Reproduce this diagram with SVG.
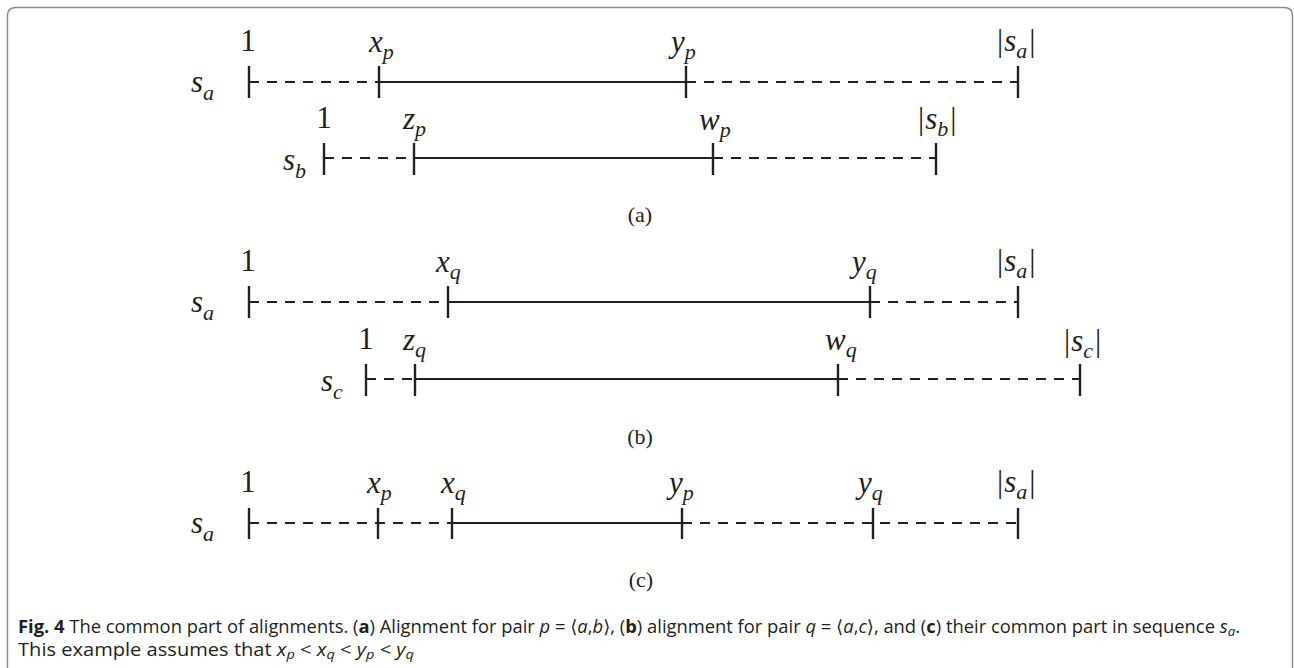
<svg xmlns="http://www.w3.org/2000/svg" width="1294" height="668" viewBox="0 0 1294 668">
<style>
.m{font-family:"Liberation Serif","Times New Roman",serif;font-size:31px;fill:#231f20}
.i{font-style:italic}
.sub{font-style:italic;font-size:22px}
.lab{font-family:"Liberation Serif","Times New Roman",serif;font-size:22px;fill:#231f20;text-anchor:middle}
.solid{stroke:#231f20;stroke-width:2;fill:none}
.dash{stroke:#231f20;stroke-width:2;fill:none;stroke-dasharray:10 8}
.tick{stroke:#231f20;stroke-width:2.4}
.cap{font-family:"Open Sans","DejaVu Sans",sans-serif;font-size:18px;fill:#231f20}
</style>
<rect width="1294" height="668" fill="#fff"/>
<path d="M7.5 668 V16 Q7.5 7.5 16 7.5 H1284 Q1292.5 7.5 1292.5 16 V668" fill="none" stroke="#8a8a8a" stroke-width="1.5"/>

<g id="connectors">
 <line class="dash" x1="249" y1="82" x2="379" y2="82"/>
 <line class="solid" x1="379" y1="82" x2="686" y2="82"/>
 <line class="dash" x1="686" y1="82" x2="1018" y2="82"/>
 <line class="dash" x1="324" y1="158" x2="414" y2="158"/>
 <line class="solid" x1="414" y1="158" x2="713" y2="158"/>
 <line class="dash" x1="713" y1="158" x2="936" y2="158"/>
 <line class="dash" x1="249" y1="302" x2="448" y2="302"/>
 <line class="solid" x1="448" y1="302" x2="870" y2="302"/>
 <line class="dash" x1="870" y1="302" x2="1018" y2="302"/>
 <line class="dash" x1="366" y1="379" x2="415" y2="379"/>
 <line class="solid" x1="415" y1="379" x2="838" y2="379"/>
 <line class="dash" x1="838" y1="379" x2="1080" y2="379"/>
 <line class="dash" x1="249" y1="523" x2="452" y2="523"/>
 <line class="solid" x1="452" y1="523" x2="682" y2="523"/>
 <line class="dash" x1="682" y1="523" x2="1018" y2="523"/>
</g>

<g id="ticks">
 <line class="tick" x1="249" y1="66" x2="249" y2="98"/>
 <line class="tick" x1="379" y1="66" x2="379" y2="98"/>
 <line class="tick" x1="686" y1="66" x2="686" y2="98"/>
 <line class="tick" x1="1018" y1="66" x2="1018" y2="98"/>
 <line class="tick" x1="324" y1="143" x2="324" y2="175"/>
 <line class="tick" x1="414" y1="143" x2="414" y2="175"/>
 <line class="tick" x1="713" y1="143" x2="713" y2="175"/>
 <line class="tick" x1="936" y1="143" x2="936" y2="175"/>
 <line class="tick" x1="249" y1="286" x2="249" y2="318"/>
 <line class="tick" x1="448" y1="286" x2="448" y2="318"/>
 <line class="tick" x1="870" y1="286" x2="870" y2="318"/>
 <line class="tick" x1="1018" y1="286" x2="1018" y2="318"/>
 <line class="tick" x1="366" y1="364" x2="366" y2="396"/>
 <line class="tick" x1="415" y1="364" x2="415" y2="396"/>
 <line class="tick" x1="838" y1="364" x2="838" y2="396"/>
 <line class="tick" x1="1080" y1="364" x2="1080" y2="396"/>
 <line class="tick" x1="249" y1="508" x2="249" y2="539"/>
 <line class="tick" x1="378" y1="508" x2="378" y2="539"/>
 <line class="tick" x1="452" y1="508" x2="452" y2="539"/>
 <line class="tick" x1="682" y1="508" x2="682" y2="539"/>
 <line class="tick" x1="873" y1="508" x2="873" y2="539"/>
 <line class="tick" x1="1018" y1="508" x2="1018" y2="539"/>
</g>

<g id="panel-a">
 <text class="m i" x="191" y="92">s<tspan class="sub" dy="8">a</tspan></text>
 <text class="m" x="248" y="51" text-anchor="middle">1</text>
 <text class="m i" x="369" y="52">x<tspan class="sub" dy="7">p</tspan></text>
 <text class="m i" x="671" y="52">y<tspan class="sub" dy="7">p</tspan></text>
 <text class="m" x="997" y="51">|<tspan class="i" dx="1">s</tspan><tspan class="sub" dy="7">a</tspan><tspan dy="-7" dx="2">|</tspan></text>
 <text class="m i" x="283" y="170">s<tspan class="sub" dy="8">b</tspan></text>
 <text class="m" x="324" y="128" text-anchor="middle">1</text>
 <text class="m i" x="403" y="129">z<tspan class="sub" dy="7">p</tspan></text>
 <text class="m i" x="699" y="130">w<tspan class="sub" dy="7">p</tspan></text>
 <text class="m" x="918" y="129">|<tspan class="i" dx="1">s</tspan><tspan class="sub" dy="7">b</tspan><tspan dy="-7" dx="2">|</tspan></text>
 <text class="lab" x="640" y="222">(a)</text>
</g>

<g id="panel-b">
 <text class="m i" x="191" y="312">s<tspan class="sub" dy="8">a</tspan></text>
 <text class="m" x="248" y="271" text-anchor="middle">1</text>
 <text class="m i" x="436" y="272">x<tspan class="sub" dy="7">q</tspan></text>
 <text class="m i" x="852" y="272">y<tspan class="sub" dy="7">q</tspan></text>
 <text class="m" x="997" y="271">|<tspan class="i" dx="1">s</tspan><tspan class="sub" dy="7">a</tspan><tspan dy="-7" dx="2">|</tspan></text>
 <text class="m i" x="321" y="391">s<tspan class="sub" dy="8">c</tspan></text>
 <text class="m" x="366" y="349" text-anchor="middle">1</text>
 <text class="m i" x="403" y="350">z<tspan class="sub" dy="7">q</tspan></text>
 <text class="m i" x="825" y="350">w<tspan class="sub" dy="7">q</tspan></text>
 <text class="m" x="1064" y="351">|<tspan class="i" dx="1">s</tspan><tspan class="sub" dy="7">c</tspan><tspan dy="-7" dx="2">|</tspan></text>
 <text class="lab" x="640" y="444">(b)</text>
</g>

<g id="panel-c">
 <text class="m i" x="191" y="533">s<tspan class="sub" dy="8">a</tspan></text>
 <text class="m" x="248" y="492" text-anchor="middle">1</text>
 <text class="m i" x="367" y="493">x<tspan class="sub" dy="7">p</tspan></text>
 <text class="m i" x="441" y="493">x<tspan class="sub" dy="7">q</tspan></text>
 <text class="m i" x="669" y="493">y<tspan class="sub" dy="7">p</tspan></text>
 <text class="m i" x="858" y="493">y<tspan class="sub" dy="7">q</tspan></text>
 <text class="m" x="997" y="492">|<tspan class="i" dx="1">s</tspan><tspan class="sub" dy="7">a</tspan><tspan dy="-7" dx="2">|</tspan></text>
 <text class="lab" x="641" y="587">(c)</text>
</g>

<g id="caption">
 <text class="cap" x="18" y="633" textLength="1222" lengthAdjust="spacingAndGlyphs"><tspan font-weight="bold">Fig. 4</tspan> The common part of alignments. (<tspan font-weight="bold">a</tspan>) Alignment for pair <tspan font-style="italic">p</tspan> = ⟨<tspan font-style="italic">a</tspan>,<tspan font-style="italic">b</tspan>⟩, (<tspan font-weight="bold">b</tspan>) alignment for pair <tspan font-style="italic">q</tspan> = ⟨<tspan font-style="italic">a</tspan>,<tspan font-style="italic">c</tspan>⟩, and (<tspan font-weight="bold">c</tspan>) their common part in sequence <tspan font-style="italic">s</tspan><tspan font-style="italic" font-size="13" dy="3">a</tspan><tspan dy="-3">.</tspan></text>
 <text class="cap" x="18" y="656" textLength="396" lengthAdjust="spacingAndGlyphs">This example assumes that <tspan font-style="italic">x</tspan><tspan font-style="italic" font-size="13" dy="3">p</tspan><tspan dy="-3">  &lt;  </tspan><tspan font-style="italic">x</tspan><tspan font-style="italic" font-size="13" dy="3">q</tspan><tspan dy="-3">  &lt;  </tspan><tspan font-style="italic">y</tspan><tspan font-style="italic" font-size="13" dy="3">p</tspan><tspan dy="-3">  &lt;  </tspan><tspan font-style="italic">y</tspan><tspan font-style="italic" font-size="13" dy="3">q</tspan></text>
</g>
</svg>
